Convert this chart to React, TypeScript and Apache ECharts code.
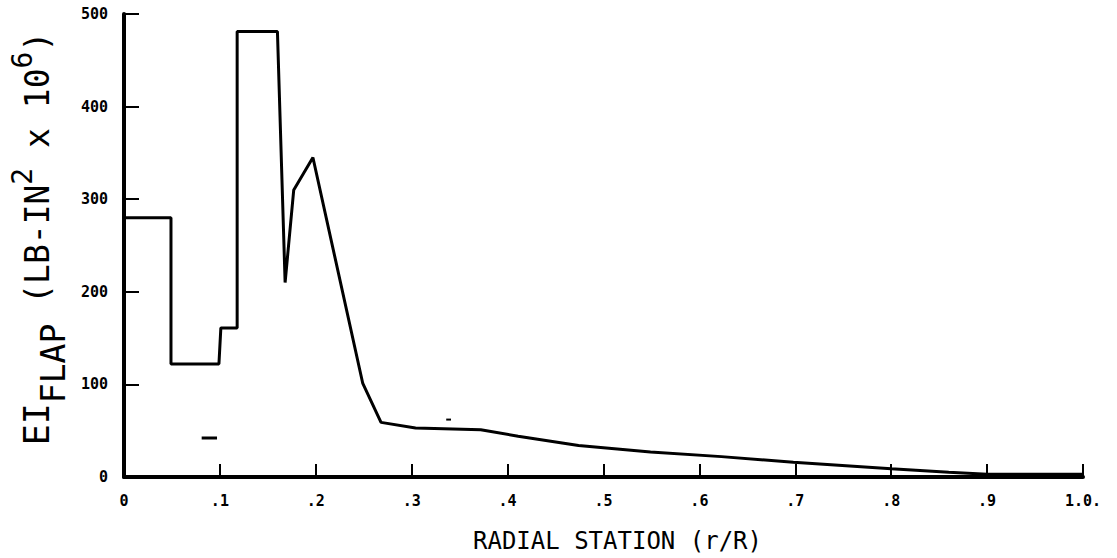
import React, { useEffect, useRef } from "react";
import * as echarts from "echarts";

// EI flap stiffness distribution (r/R, EI x 10^6 lb-in^2)
const stationR = [0, 0.049, 0.049, 0.099, 0.101, 0.118, 0.118, 0.160, 0.168, 0.177, 0.197, 0.249, 0.268, 0.304, 0.372, 0.411, 0.474, 0.549, 0.623, 0.698, 0.80, 0.86, 0.9, 1.0];
const eiFlap = [280, 280, 122, 122, 161, 161, 481, 481, 210, 310, 345, 101, 59, 53, 51, 44, 34, 27, 22, 16, 9, 5, 3, 3];

// stray marks on the original plot
const markA_R = [0.081, 0.097];
const markA_EI = [42, 42];
const markB_R = [0.336, 0.341];
const markB_EI = [62, 62];

const xTickLabels: Record<string, string> = {
  "0": "0", "0.1": ".1", "0.2": ".2", "0.3": ".3", "0.4": ".4", "0.5": ".5",
  "0.6": ".6", "0.7": ".7", "0.8": ".8", "0.9": ".9", "1": "1.0.",
};

const zip = (a: number[], b: number[]) => a.map((v, i) => [v, b[i]]);

export default function App() {
  const ref = useRef<HTMLDivElement>(null);
  useEffect(() => {
    if (!ref.current) return;
    const chart = echarts.init(ref.current, null, { renderer: "svg" });
    const mono = "DejaVu Sans Mono";
    const lineStyle = { color: "#000", width: 3 };
    chart.setOption({
      animation: false,
      backgroundColor: "#fff",
      grid: { left: 121, right: 34, top: 14, bottom: 72 },
      xAxis: {
        type: "value",
        min: 0,
        max: 1,
        interval: 0.1,
        name: "RADIAL STATION (r/R)",
        nameLocation: "middle",
        nameGap: 52,
        nameTextStyle: { fontFamily: mono, fontSize: 24, color: "#000", padding: [0, 0, 0, 28] },
        axisLine: { lineStyle: { color: "#000", width: 4 } },
        axisTick: { inside: true, length: 13, lineStyle: { color: "#000", width: 2 } },
        axisLabel: {
          fontFamily: mono,
          fontWeight: "bold",
          fontSize: 15,
          color: "#000",
          margin: 16,
          formatter: (v: number) => xTickLabels[String(Math.round(v * 10) / 10)] ?? "",
        },
        splitLine: { show: false },
      },
      yAxis: {
        type: "value",
        min: 0,
        max: 500,
        interval: 100,
        name: "{e|EI}{sub|FLAP}{m| (LB-IN}{sup|2}{m| x 10}{sup|6}{m|)}",
        nameLocation: "middle",
        nameRotate: 90,
        nameGap: 62,
        nameTextStyle: {
          fontFamily: mono,
          color: "#000",
          padding: [0, 0, 0, 14],
          rich: {
            e: { fontFamily: mono, fontSize: 35, color: "#000", verticalAlign: "bottom" },
            m: { fontFamily: mono, fontSize: 33, color: "#000", verticalAlign: "bottom" },
            sub: { fontFamily: mono, fontSize: 33, color: "#000", verticalAlign: "bottom", padding: [0, 0, -16, 0] },
            sup: { fontFamily: mono, fontSize: 28, color: "#000", verticalAlign: "bottom", padding: [0, 0, 18, 0] },
          },
        },
        axisLine: { show: true, lineStyle: { color: "#000", width: 4 } },
        axisTick: { show: true, inside: true, length: 15, lineStyle: { color: "#000", width: 2 } },
        axisLabel: { fontFamily: mono, fontWeight: "bold", fontSize: 15, color: "#000", margin: 16 },
        splitLine: { show: false },
      },
      series: [
        { type: "line", data: zip(stationR, eiFlap), showSymbol: false, lineStyle, z: 3 },
        { type: "line", data: zip(markA_R, markA_EI), showSymbol: false, lineStyle: { color: "#000", width: 3 } },
        { type: "line", data: zip(markB_R, markB_EI), showSymbol: false, lineStyle: { color: "#000", width: 2 } },
      ],
    });
    return () => chart.dispose();
  }, []);
  return (
    <div
      ref={ref}
      style={{ position: "fixed", left: 0, top: 0, width: 1117, height: 558, background: "#fff" }}
    />
  );
}
